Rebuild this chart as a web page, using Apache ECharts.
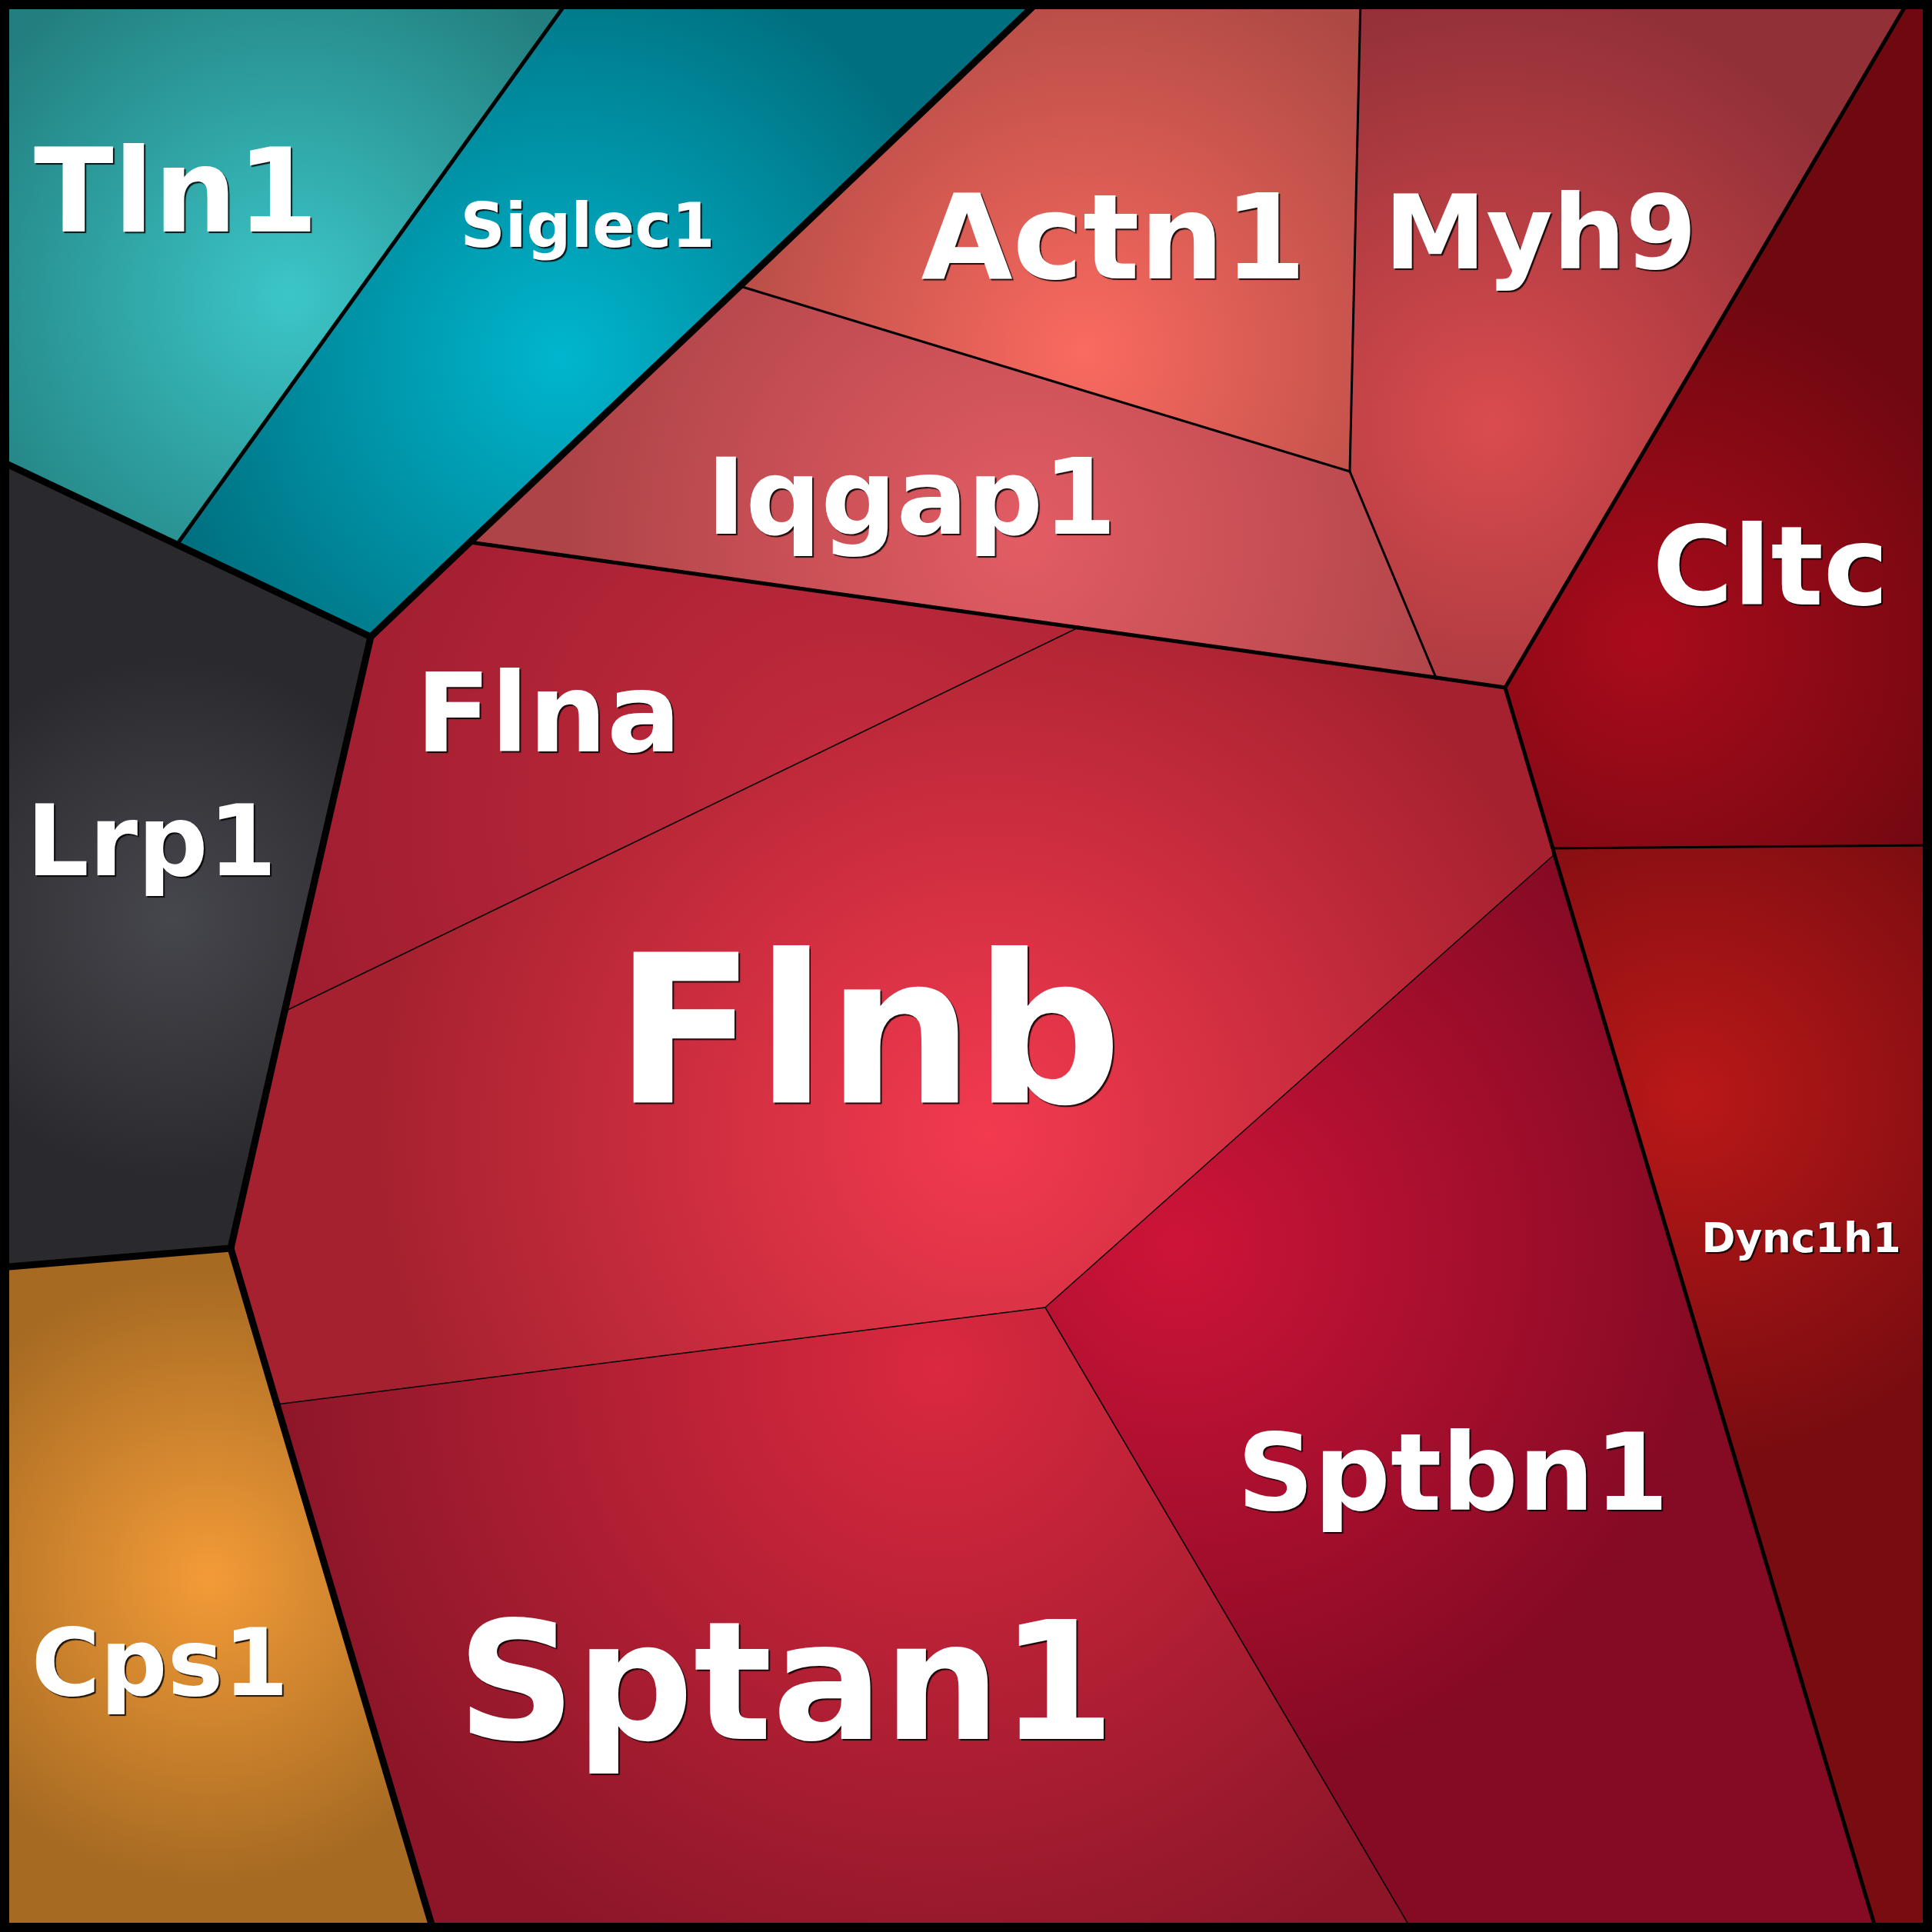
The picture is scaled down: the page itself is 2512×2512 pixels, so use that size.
<!DOCTYPE html>
<html>
<head>
<meta charset="utf-8">
<script src="https://cdn.jsdelivr.net/npm/echarts@6/dist/echarts.min.js"></script>
<style>
  html, body { margin: 0; padding: 0; background: #ffffff; }
  #chart { width: 2512px; height: 2512px; }
</style>
</head>
<body>
<div id="chart"></div>
<script>
// Voronoi treemap of proteins. Cell geometry is given in plot units (0..2512, y downward).

// Polygon vertices shared between neighbouring cells
const vertices = {
  C_TL: [0, 0], C_TR: [2512, 0], C_BR: [2512, 2512], C_BL: [0, 2512],
  T0: [739, 0], T1: [1352, 0], T2: [1769, 0], T3: [2482, 0],
  L1: [0, 599], L2: [0, 1648], R1: [2512, 1099],
  B1: [564, 2512], B2: [1837, 2512], B3: [2440, 2512],
  J1: [230, 708], J2: [482, 828], J3: [962, 372], J4: [611, 705],
  J5: [1755, 613], J6: [1867, 881], J7: [1957, 894], J8: [1402, 816],
  J9: [370, 1315], J10: [300, 1623], J11: [360, 1826], J12: [1359, 1700],
  J13: [2019, 1103], J14: [2021, 1111]
};

// Cell names
const cellNames = ['Tln1', 'Siglec1', 'Lrp1', 'Cps1', 'Actn1', 'Myh9', 'Iqgap1',
                   'Cltc', 'Dync1h1', 'Flna', 'Flnb', 'Sptan1', 'Sptbn1'];

// Position of each cell in the hierarchy (root -> leaf)
const cellPaths = [
  ['g1', 'Tln1'], ['g1', 'Siglec1'], ['Lrp1'], ['Cps1'],
  ['g2', 'g2a', 'Actn1'], ['g2', 'g2a', 'Myh9'], ['g2', 'g2a', 'Iqgap1'],
  ['g2', 'g2b', 'Cltc'], ['g2', 'g2b', 'Dync1h1'],
  ['g2', 'g2c', 'g2c1', 'Flna'], ['g2', 'g2c', 'g2c1', 'Flnb'],
  ['g2', 'g2c', 'g2c1', 'Sptan1'], ['g2', 'g2c', 'g2c1', 'Sptbn1']
];

// Cell outlines as vertex ids
const cellPolygons = [
  ['C_TL', 'T0', 'J1', 'L1'],
  ['T0', 'T1', 'J3', 'J4', 'J2', 'J1'],
  ['L1', 'J1', 'J2', 'J9', 'J10', 'L2'],
  ['L2', 'J10', 'J11', 'B1', 'C_BL'],
  ['T1', 'T2', 'J5', 'J3'],
  ['T2', 'T3', 'J7', 'J6', 'J5'],
  ['J3', 'J5', 'J6', 'J8', 'J4'],
  ['T3', 'C_TR', 'R1', 'J13', 'J7'],
  ['J13', 'R1', 'C_BR', 'B3', 'J14'],
  ['J2', 'J4', 'J8', 'J9'],
  ['J9', 'J8', 'J6', 'J7', 'J13', 'J14', 'J12', 'J11', 'J10'],
  ['J11', 'J12', 'B2', 'B1'],
  ['J12', 'J14', 'B3', 'B2']
];

// Appearance of each cell: radial shading and label placement (label = cap-height middle)
const cellStyle = {
  Tln1:    { center: [376, 385],   radius: 480, inner: '#3cc6c8', outer: '#237f7f', label: [229, 243],  size: 152 },
  Siglec1: { center: [729, 465],   radius: 540, inner: '#00b6ce', outer: '#007080', label: [764, 290],  size: 81 },
  Lrp1:    { center: [224, 1193],  radius: 340, inner: '#46464d', outer: '#2a2a2e', label: [197, 1089], size: 128 },
  Cps1:    { center: [272, 2050],  radius: 400, inner: '#f39b38', outer: '#a66a22', label: [208, 2157], size: 122 },
  Actn1:   { center: [1410, 457],  radius: 540, inner: '#fa6a60', outer: '#ad4943', label: [1448, 303], size: 154 },
  Myh9:    { center: [1938, 553],  radius: 570, inner: '#da4c4e', outer: '#923038', label: [2003, 298], size: 133 },
  Iqgap1:  { center: [1330, 700],  radius: 600, inner: '#e35c64', outer: '#ae4448', label: [1185, 641], size: 137 },
  Cltc:    { center: [2139, 833],  radius: 470, inner: '#aa0b1c', outer: '#700810', label: [2302, 731], size: 143 },
  Dync1h1: { center: [2195, 1426], radius: 480, inner: '#ba1818', outer: '#780c10', label: [2342, 1608], size: 53 },
  Flna:    { center: [1120, 1060], radius: 820, inner: '#c42c3e', outer: '#9c1c2e', label: [713, 922],  size: 143 },
  Flnb:    { center: [1282, 1474], radius: 800, inner: '#f33a4f', outer: '#a5212f', label: [1129, 1330], size: 269 },
  Sptan1:  { center: [1218, 1778], radius: 860, inner: '#da2940', outer: '#8c1628', label: [1022, 2179], size: 214 },
  Sptbn1:  { center: [1530, 1618], radius: 700, inner: '#cd1438', outer: '#850a24', label: [1889, 1910], size: 139 }
};

// Boundary thickness by the hierarchy depth at which two cells part ways
const boundaryWidths = [9, 5, 3, 1.5];
const frameWidth = 24; // centred on the plot edge, half of it visible

// Collect edges shared between cells
const edgeMap = {};
cellPolygons.forEach((ids, ci) => {
  ids.forEach((a, k) => {
    const b = ids[(k + 1) % ids.length];
    const key = a < b ? a + '|' + b : b + '|' + a;
    if (!edgeMap[key]) edgeMap[key] = { a, b, cells: [] };
    edgeMap[key].cells.push(ci);
  });
});
const edges = Object.values(edgeMap).map(e => {
  if (e.cells.length < 2) return { a: e.a, b: e.b, width: frameWidth };
  const p = cellPaths[e.cells[0]], q = cellPaths[e.cells[1]];
  let d = 0;
  while (d < p.length && d < q.length && p[d] === q[d]) d++;
  return { a: e.a, b: e.b, width: boundaryWidths[Math.min(d, boundaryWidths.length - 1)] };
});
// thicker boundaries on top
edges.sort((x, y) => x.width - y.width);

const chart = echarts.init(document.getElementById('chart'), null, { renderer: 'canvas' });

chart.setOption({
  animation: false,
  backgroundColor: '#ffffff',
  grid: { left: 0, right: 0, top: 0, bottom: 0 },
  xAxis: { type: 'value', min: 0, max: 2512, show: false },
  yAxis: { type: 'value', min: 0, max: 2512, inverse: true, show: false },
  series: [
    {
      // filled cells
      type: 'custom',
      coordinateSystem: 'cartesian2d',
      clip: false,
      z: 1,
      data: cellNames.map((n, i) => [i, 0]),
      renderItem: function (params, api) {
        const i = params.dataIndex;
        const name = cellNames[i];
        const st = cellStyle[name];
        const pts = cellPolygons[i].map(id => api.coord(vertices[id]));
        const c = api.coord(st.center);
        const r = api.size([st.radius, 0])[0];
        return {
          type: 'polygon',
          shape: { points: pts },
          style: {
            fill: new echarts.graphic.RadialGradient(c[0], c[1], r, [
              { offset: 0, color: st.inner },
              { offset: 1, color: st.outer }
            ], true),
            stroke: null
          }
        };
      }
    },
    {
      // cell and group boundaries
      type: 'custom',
      coordinateSystem: 'cartesian2d',
      clip: false,
      z: 2,
      data: edges.map((e, i) => [i, 0]),
      renderItem: function (params, api) {
        const e = edges[params.dataIndex];
        const p1 = api.coord(vertices[e.a]);
        const p2 = api.coord(vertices[e.b]);
        return {
          type: 'line',
          shape: { x1: p1[0], y1: p1[1], x2: p2[0], y2: p2[1] },
          style: { stroke: '#000000', lineWidth: e.width, lineCap: 'round' }
        };
      }
    },
    {
      // cell names
      type: 'custom',
      coordinateSystem: 'cartesian2d',
      clip: false,
      z: 3,
      data: cellNames.map((n, i) => [i, 0]),
      renderItem: function (params, api) {
        const name = cellNames[params.dataIndex];
        const st = cellStyle[name];
        const p = api.coord(st.label);
        return {
          type: 'text',
          x: p[0],
          // 'middle' sits a little above the cap-height centre for this face
          y: p[1] + st.size * 0.125,
          style: {
            text: name,
            fill: '#ffffff',
            font: 'bold ' + st.size + 'px "DejaVu Sans"',
            align: 'center',
            verticalAlign: 'middle',
            textShadowColor: 'rgba(0,0,0,0.85)',
            textShadowBlur: 1,
            textShadowOffsetX: 2,
            textShadowOffsetY: 2
          }
        };
      }
    }
  ]
});
</script>
</body>
</html>
